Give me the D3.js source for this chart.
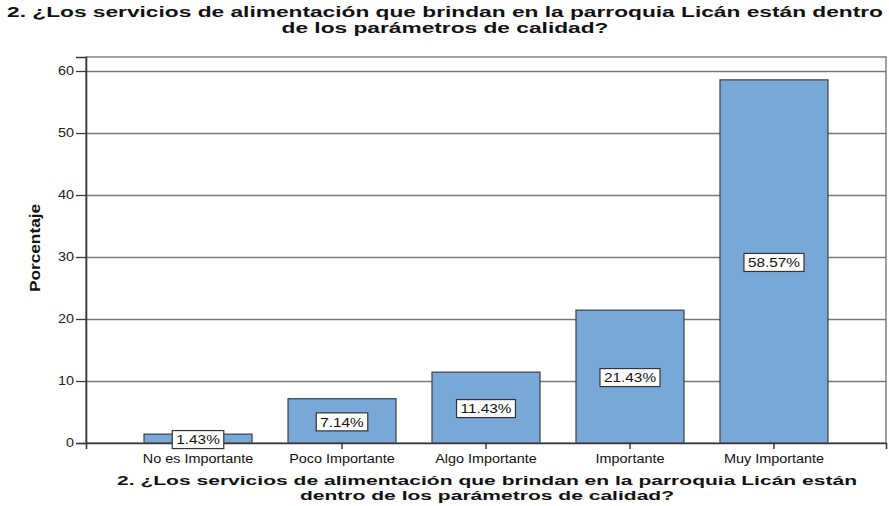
<!DOCTYPE html>
<html>
<head>
<meta charset="utf-8">
<script src="https://cdn.jsdelivr.net/npm/d3@7"></script>
<style>
  body { margin: 0; background: #fff; }
  svg { display: block; }
</style>
</head>
<body>
<div id="chart"></div>
<script>
// data
var categories = ["No es Importante", "Poco Importante", "Algo Importante", "Importante", "Muy Importante"];
var percentages = [1.43, 7.14, 11.43, 21.43, 58.57];
var yTicks = [0, 10, 20, 30, 40, 50, 60];
var titleLines = ["2. ¿Los servicios de alimentación que brindan en la parroquia Licán están dentro",
                  "de los parámetros de calidad?"];
var xTitleLines = ["2. ¿Los servicios de alimentación que brindan en la parroquia Licán están",
                   "dentro de los parámetros de calidad?"];

var W = 889, H = 506;
var plot = {left: 86, right: 886, top: 57, bottom: 443};
var font = "Liberation Sans, Arial, sans-serif";

// the reference is drawn a bit wide, so stretch texts sideways
function stretch(sel, k) {
    sel.each(function() {
        var len = this.getComputedTextLength();
        d3.select(this)
            .attr("textLength", len * k)
            .attr("lengthAdjust", "spacingAndGlyphs");
    });
}

var svg = d3.select("#chart")
    .append("svg")
    .attr("width", W)
    .attr("height", H);

var x = d3.scaleBand()
    .domain(categories)
    .range([plot.left, plot.right])
    .paddingInner(0.25)
    .paddingOuter(0.403);

var y = d3.scaleLinear()
    .domain([0, 62.26])
    .range([plot.bottom, plot.top]);

// gridlines
svg.append("g")
    .selectAll("line")
    .data(yTicks.filter(d => d > 0))
    .enter()
    .append("line")
    .attr("x1", plot.left)
    .attr("x2", plot.right)
    .attr("y1", d => Math.round(y(d)) + 0.5)
    .attr("y2", d => Math.round(y(d)) + 0.5)
    .attr("stroke", "#7a7a7a")
    .attr("stroke-width", 1.3);

// bars
svg.append("g")
    .selectAll("rect")
    .data(percentages)
    .enter()
    .append("rect")
    .attr("x", (d, i) => x(categories[i]))
    .attr("y", d => y(d))
    .attr("width", x.bandwidth())
    .attr("height", d => plot.bottom - y(d))
    .attr("fill", "#79a8d6")
    .attr("stroke", "#3a3f46")
    .attr("stroke-width", 1.2);

// frame
svg.append("rect")
    .attr("x", plot.left)
    .attr("y", plot.top)
    .attr("width", plot.right - plot.left)
    .attr("height", plot.bottom - plot.top)
    .attr("fill", "none")
    .attr("stroke", "#6e6e6e")
    .attr("stroke-width", 1.3);

// axes
var yAxis = d3.axisLeft(y)
    .tickValues(yTicks)
    .tickSize(10)
    .tickPadding(2);

var gy = svg.append("g")
    .attr("transform", "translate(" + plot.left + ",0)")
    .call(yAxis);
gy.select(".domain").attr("stroke", "#3a3a3a").attr("stroke-width", 1.6);
gy.selectAll(".tick line").attr("stroke", "#3a3a3a").attr("stroke-width", 1.3);
gy.selectAll(".tick text")
    .attr("font-family", font)
    .attr("font-size", "12px")
    .attr("fill", "#222")
    .call(stretch, 1.2);

var xAxis = d3.axisBottom(x)
    .tickSize(6)
    .tickPadding(5);

var gx = svg.append("g")
    .attr("transform", "translate(0," + plot.bottom + ")")
    .call(xAxis);
gx.select(".domain").attr("stroke", "#3a3a3a").attr("stroke-width", 1.6);
gx.selectAll(".tick line").attr("stroke", "#3a3a3a").attr("stroke-width", 1.5);
gx.selectAll(".tick text")
    .attr("font-family", font)
    .attr("font-size", "12px")
    .attr("fill", "#111")
    .call(stretch, 1.2);

// value labels
var labels = svg.append("g")
    .selectAll("g")
    .data(percentages)
    .enter()
    .append("g")
    .attr("transform", (d, i) => "translate(" + (x(categories[i]) + x.bandwidth() / 2) + "," + ((y(d) + plot.bottom) / 2 + 1) + ")");

labels.append("text")
    .attr("text-anchor", "middle")
    .attr("dy", "0.36em")
    .attr("font-family", font)
    .attr("font-size", "13px")
    .attr("fill", "#111")
    .text(d => d.toFixed(2) + "%")
    .call(stretch, 1.18)
    .each(function() {
        var w = +d3.select(this).attr("textLength");
        d3.select(this.parentNode).insert("rect", "text")
            .attr("x", -w / 2 - 4)
            .attr("y", -9)
            .attr("width", w + 8)
            .attr("height", 18)
            .attr("fill", "#fff")
            .attr("stroke", "#333")
            .attr("stroke-width", 1.2);
    });

// chart title
var title = svg.append("text")
    .attr("text-anchor", "middle")
    .attr("font-family", font)
    .attr("font-weight", "bold")
    .attr("font-size", "14px")
    .attr("fill", "#111");
var tsp = title.selectAll("tspan")
    .data(titleLines)
    .enter()
    .append("tspan")
    .attr("x", 445)
    .attr("y", (d, i) => 17 + i * 16)
    .text(d => d);
var kTitle = 876 / tsp.node().getComputedTextLength();
tsp.call(stretch, kTitle);

// y title
svg.append("text")
    .attr("transform", "translate(40," + 248 + ") rotate(-90)")
    .attr("text-anchor", "middle")
    .attr("font-family", font)
    .attr("font-weight", "bold")
    .attr("font-size", "15px")
    .attr("fill", "#111")
    .text("Porcentaje")
    .call(stretch, 1.15);

// x title
var xTitle = svg.append("text")
    .attr("text-anchor", "middle")
    .attr("font-family", font)
    .attr("font-weight", "bold")
    .attr("font-size", "13px")
    .attr("fill", "#111");
var xsp = xTitle.selectAll("tspan")
    .data(xTitleLines)
    .enter()
    .append("tspan")
    .attr("x", 487)
    .attr("y", (d, i) => 485 + i * 15)
    .text(d => d);
var kX = 740 / xsp.node().getComputedTextLength();
xsp.call(stretch, kX);
</script>
</body>
</html>
